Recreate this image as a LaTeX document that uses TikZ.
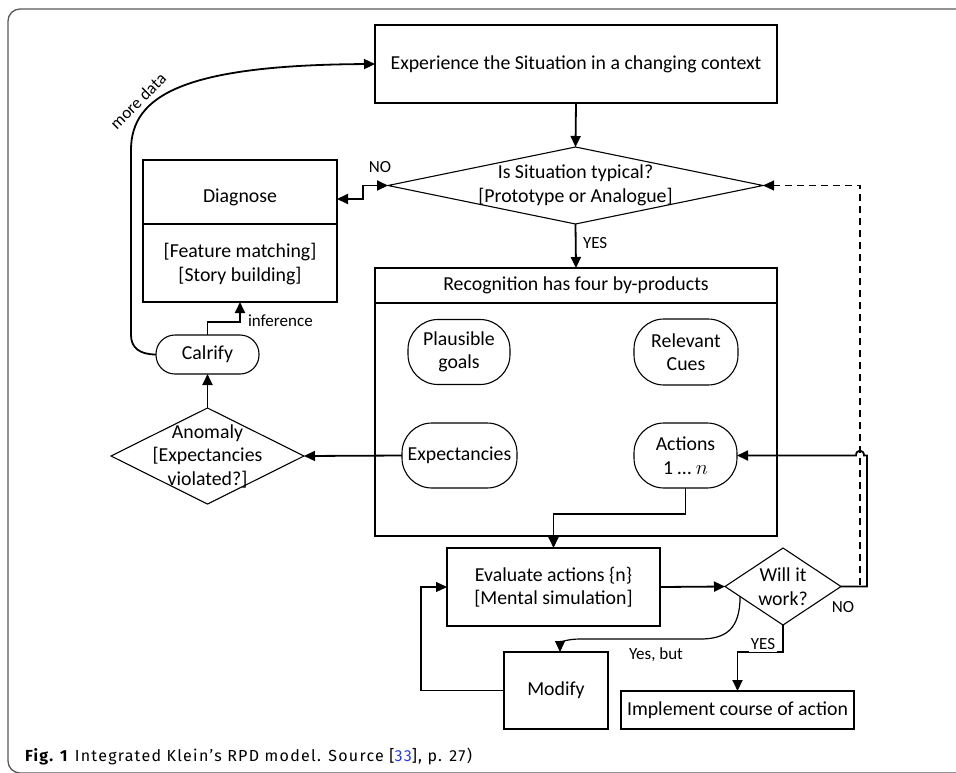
\documentclass[tikz,border=0pt]{standalone}
\usepackage{fontspec}
\setmainfont{Carlito}
\newfontfamily\capfont{Fira Sans}[LetterSpace=8]
\usetikzlibrary{arrows.meta,shapes.geometric,calc}
\definecolor{framegray}{gray}{0.35}
\definecolor{citeblue}{RGB}{40,60,220}

\begin{document}
\begin{tikzpicture}[x=1pt,y=-1pt,
  every node/.style={font=\fontsize{19.8}{23.5}\selectfont, inner sep=0pt, outer sep=0pt},
  box/.style={draw, line width=1.1pt, rectangle},
  pill/.style={draw, line width=1.1pt, rectangle, rounded corners=#1},
  dec/.style={draw, line width=1.1pt, diamond},
  tip/.style={-{Triangle[length=11pt,width=10pt]}},
  conn/.style={line width=1.8pt, tip},
  bothconn/.style={line width=1.8pt, {Triangle[length=11pt,width=10pt]}-{Triangle[length=11pt,width=10pt]}},
  thinconn/.style={line width=1.2pt, tip},
  dashconn/.style={line width=1.1pt, dash pattern=on 7pt off 5pt, tip},
  lbl/.style={font=\fontsize{17}{20}\selectfont},
]
\useasboundingbox (0,0) rectangle (956,772);

% page frame
\draw[framegray, line width=1.3pt, rounded corners=12pt] (990,9) -- (8,9) -- (8,773) -- (990,773);

% main flow boxes
\node[box, minimum width=402pt, minimum height=78pt] (exp) at (576,64) {Experience the Situation in a changing context};

\node[dec, minimum width=375pt, minimum height=77pt] (typ) at (575.5,185.5) {};
\node[align=center] (typtxt) at (typ) {Is Situation typical?\\{[}Prototype or Analogue{]}};

% diagnose box with two compartments
\node[box, minimum width=194pt, minimum height=142pt] (diag) at (240,231) {};
\draw[line width=1.1pt] (diag.west |- 0,224) -- (diag.east |- 0,224);
\node (diagtitle) at (240,197) {Diagnose};
\node[align=center] (diagbody) at (240,264) {{[}Feature matching{]}\\{[}Story building{]}};

% recognition box and its by-products
\node[box, minimum width=402pt, minimum height=268pt] (rec) at (576,402) {};
\draw[line width=1.1pt] (rec.west |- 0,303) -- (rec.east |- 0,303);
\node (rectitle) at (576,285) {Recognition has four by-products};

\node[pill=30pt, minimum width=102pt, minimum height=65pt, align=center] (goal) at (459,352) {Plausible\\goals};
\node[pill=30pt, minimum width=104pt, minimum height=66pt, align=center] (cues) at (686,352) {Relevant\\Cues};
\node[pill=30pt, minimum width=115pt, minimum height=65pt, align=center] (expc) at (459.5,455.5) {Expectancies};
\node[pill=30pt, minimum width=103pt, minimum height=65pt, align=center] (act) at (685.5,455.5) {Actions\\1 … $n$};

% anomaly loop
\node[pill=19pt, minimum width=103pt, minimum height=39pt] (cal) at (207.5,354.5) {Calrify};
\node[dec, minimum width=193pt, minimum height=96pt] (anom) at (207.5,456) {};
\node[align=center] (anomtxt) at (anom) {Anomaly\\{[}Expectancies\\violated?{]}};

% evaluation stage
\node[box, minimum width=213pt, minimum height=78pt, align=center] (eval) at (553.5,587) {Evaluate actions \{n\}\\{[}Mental simulation{]}};
\node[dec, minimum width=116pt, minimum height=77pt] (will) at (783,586.5) {};
\node[align=center] (willtxt) at (will) {Will it\\work?};
\node[box, minimum width=104pt, minimum height=77pt] (mod) at (556,690.5) {Modify};
\node[box, minimum width=233pt, minimum height=38pt] (impl) at (737.5,710) {Implement course of action};

% connectors
\draw[conn] (exp.south) -- (typ.north);
\draw[conn] (typ.south) -- (rec.north);
\node[lbl, anchor=west] (yes1) at (583,243) {YES};

\draw[bothconn] (typ.west) -- (363,185.5) -- (363,199) -- (diag.east |- 0,199);
\node[lbl] (no1) at (380,167) {NO};

\draw[conn] (cal.north) -- (207.5,322) -| (diag.south);
\node[lbl, anchor=west] (infer) at (248,321) {inference};

\draw[conn] (anom.north) -- (cal.south);
\draw[conn] (expc.west) -- (anom.east);

\draw[conn] (cal.west) .. controls (140,354.5) and (131,348) .. (131,335) -- (131,150)
  .. controls (131,95) and (185,65) .. (exp.west);
\node[lbl, rotate=45] (more) at (138,101) {more data};

\draw[conn] (act.south) -- (act.south |- 0,514) -| (eval.north);
\draw[conn] (eval.east) -- (will.west);

\draw[conn] (will.east) -- (867,586.5) -- (867,455.5) -- (864,455.5)
  .. controls (864,449) and (856,449) .. (856,455.5) -- (act.east);
\node[lbl] (no2) at (843,607) {NO};

\draw[dashconn] (860,585) -- (860,185.5) -- (typ.east);

\draw[conn] (will.south) -- (783,652) -| (impl.north);
\node[lbl, fill=white, inner sep=2pt] (yes2) at (763,644) {YES};

\coordinate (ybstart) at ($(will.west)!0.26!(will.south)$);
\draw[thinconn] (ybstart) .. controls (740,630) and (725,639) .. (700,639) -- (580,639)
  .. controls (566,639) and (560,643) .. ($(mod.north)+(4,0)$);
\node[lbl] (yesbut) at (656,655) {Yes, but};

\draw[thinconn] (mod.west) -- (421,690.5) |- (eval.west);

% caption
\node[anchor=base west, font=\capfont\fontsize{16}{19}\selectfont] (cap) at (25,761)
  {\textbf{Fig. 1}\hspace{6pt}Integrated Klein’s RPD model. Source [\textcolor{citeblue}{33}], p. 27)};
\end{tikzpicture}
\end{document}
